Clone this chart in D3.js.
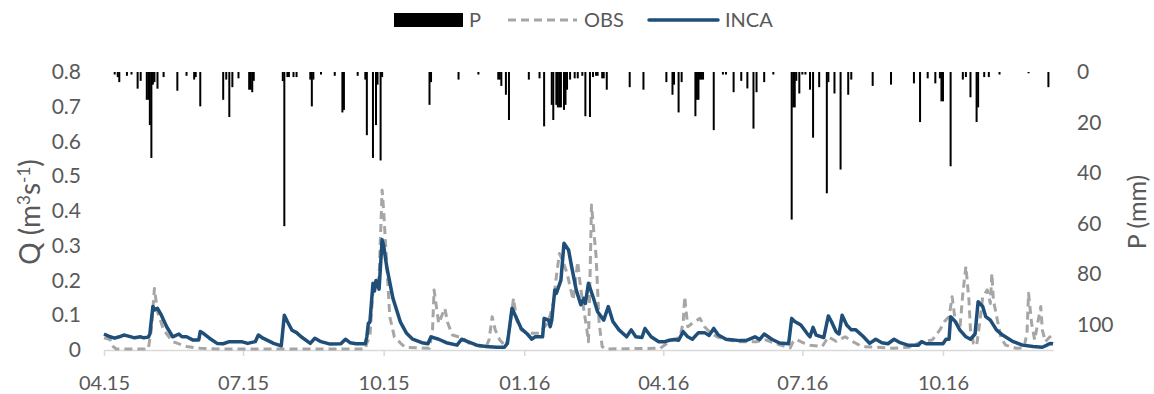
<!DOCTYPE html>
<head>
<meta charset="utf-8">
<script src="https://d3js.org/d3.v7.min.js"></script>
<title>Q and P</title>
<style>
  body { margin: 0; background: #fff; }
  text { font-family: Lato, "Open Sans", sans-serif; fill: #595959; }
</style>
</head>
<body>
<svg id="chart" width="1154" height="394"></svg>
<script>
// day offsets counted from 2015-04-01
const startDate = [2015, 3, 1];
const endDay = 621;
const tickDays = [0, 91, 183, 275, 366, 457, 549];

// precipitation (mm), [day, mm]
const precip = [
  [7,1],[9,2],[10,4],[15,1.5],[18,1],[22,6.6],[24,3.5],[28,11],[29,11],[30,21],[31,34],[32,5],[33,4],[35,6.6],
  [39,2],[48,7.4],[54,1.5],[59,3],[60,2],[63,13.6],[78,11],[80,3],[82,17.8],[84,6],[88,2.5],[95,7],[96,7],[97,8],[98,3.5],
  [117,3.6],[118,61],[120,2],[121,2],[124,2],[126,2],[135,3],[136,13.6],[137,3],[142,1],[151,1.5],[156,16],[157,15],
  [166,1.5],[171,3],[172,25],[176,34],[178,21],[179,5],[181,35],[182,2],
  [213,13],[214,4],[232,3],[245,1],[258,3],[259,3],[260,5.5],[263,9],[265,19],[278,3],[285,2.5],[288,21.5],
  [293,13],[294,19],[296,13],[297,14],[298,14],[299,14],[301,15],[302,13],[303,7],[305,3],[308,2.5],[310,2.5],
  [313,1.5],[315,17.5],[318,17.8],[320,2],[322,1.5],[323,1.5],[326,2.5],[327,2.5],[329,7],[344,6],[353,7],
  [368,4],[372,9],[373,5],[376,16],[378,4],[387,17.5],[388,11],[389,11],[390,3],[391,3],[392,3],[399,23],
  [405,1],[407,1],[412,8],[417,3.5],[421,6.5],[425,22.4],[427,8],[432,4],[438,1],
  [450,58.4],[451,14],[452,14],[453,3.5],[455,8.5],[457,1],[459,1],[462,7],[464,26],[468,6],[473,48],[474,4],
  [478,8.5],[482,38.6],[487,9],[489,3],[503,5.5],[515,5],
  [530,4.5],[534,19.8],[539,2.5],[544,4.5],[547,2.5],[548,11.6],[549,11.6],[554,37.3],[562,3],[564,2],[567,10],
  [571,19.8],[572,14],[576,2],[579,2],[586,1],[605,0.5],[618,6]
];

// observed discharge (m3/s), [day, Q]
const obs = [
  [0,0.035],[4,0.03],[6,0.01],[8,0.003],[29,0.003],[31,0.06],[33,0.177],[35,0.11],[39,0.058],[45,0.024],[54,0.01],
  [63,0.005],[76,0.003],[171,0.003],[172,0.02],[174,0.038],[176,0.17],[179,0.2],[180,0.21],[182,0.46],[183,0.4],
  [185,0.25],[187,0.096],[190,0.038],[194,0.02],[197,0.008],[213,0.005],[215,0.06],[216,0.173],[219,0.077],
  [223,0.12],[225,0.077],[228,0.043],[235,0.034],[239,0.019],[246,0.01],[250,0.008],[252,0.03],[254,0.096],
  [256,0.058],[259,0.029],[263,0.01],[265,0.05],[268,0.149],[270,0.086],[273,0.058],[277,0.048],[285,0.048],
  [290,0.077],[292,0.1],[294,0.134],[296,0.211],[298,0.278],[300,0.259],[303,0.221],[305,0.182],[307,0.144],
  [310,0.254],[311,0.211],[313,0.144],[316,0.058],[317,0.024],[318,0.2],[319,0.417],[322,0.27],[324,0.077],
  [326,0.01],[328,0.003],[364,0.005],[370,0.024],[377,0.038],[379,0.08],[380,0.153],[382,0.067],[385,0.077],
  [390,0.091],[393,0.067],[396,0.053],[401,0.038],[407,0.03],[414,0.024],[427,0.024],[433,0.029],[438,0.021],
  [442,0.015],[449,0.006],[451,0.024],[453,0.03],[458,0.02],[462,0.014],[470,0.01],[474,0.038],[479,0.025],
  [485,0.038],[490,0.024],[496,0.01],[505,0.008],[516,0.005],[527,0.008],[535,0.024],[542,0.029],[547,0.058],
  [550,0.082],[553,0.096],[555,0.153],[557,0.086],[560,0.058],[562,0.163],[564,0.24],[566,0.144],[567,0.058],
  [569,0.019],[571,0.012],[573,0.077],[575,0.153],[578,0.173],[580,0.134],[581,0.22],[582,0.144],[585,0.077],
  [587,0.034],[590,0.014],[597,0.005],[602,0.006],[604,0.05],[605,0.163],[607,0.077],[609,0.029],[611,0.077],
  [613,0.125],[614,0.058],[616,0.024],[619,0.038],[621,0.019]
];

// simulated discharge INCA (m3/s), [day, Q]
const inca = [
  [0,0.046],[4,0.038],[7,0.034],[10,0.038],[13,0.043],[16,0.04],[20,0.035],[24,0.038],[26,0.035],[29,0.037],
  [30,0.046],[32,0.125],[33,0.115],[35,0.12],[37,0.105],[41,0.067],[45,0.038],[49,0.046],[51,0.038],[54,0.038],
  [58,0.029],[62,0.029],[63,0.053],[65,0.048],[69,0.034],[74,0.019],[78,0.018],[82,0.024],[87,0.024],[90,0.024],
  [94,0.019],[99,0.024],[101,0.043],[104,0.034],[111,0.019],[116,0.012],[118,0.1],[120,0.082],[123,0.057],
  [126,0.05],[129,0.038],[135,0.019],[138,0.034],[142,0.024],[148,0.017],[155,0.018],[158,0.031],[161,0.021],
  [165,0.018],[171,0.018],[172,0.038],[173,0.077],[174,0.08],[176,0.192],[177,0.17],[178,0.2],[180,0.175],
  [182,0.317],[183,0.3],[185,0.24],[189,0.15],[194,0.08],[198,0.048],[202,0.031],[208,0.021],[212,0.018],
  [214,0.038],[219,0.031],[224,0.021],[231,0.014],[234,0.031],[238,0.024],[244,0.014],[250,0.01],[257,0.008],
  [262,0.008],[264,0.019],[267,0.12],[270,0.091],[273,0.062],[277,0.046],[280,0.031],[282,0.038],[287,0.038],
  [288,0.091],[291,0.085],[292,0.067],[293,0.086],[295,0.173],[296,0.163],[299,0.201],[301,0.307],[304,0.288],
  [306,0.24],[309,0.173],[312,0.13],[314,0.149],[315,0.134],[317,0.192],[320,0.153],[323,0.11],[327,0.086],
  [330,0.125],[333,0.082],[337,0.058],[342,0.038],[345,0.058],[348,0.038],[352,0.036],[354,0.062],[358,0.038],
  [363,0.024],[367,0.024],[370,0.028],[373,0.03],[376,0.028],[379,0.053],[382,0.038],[385,0.031],[389,0.05],
  [393,0.05],[396,0.042],[399,0.062],[402,0.043],[407,0.031],[412,0.029],[416,0.027],[420,0.027],[426,0.038],
  [429,0.03],[432,0.046],[437,0.031],[442,0.02],[448,0.018],[450,0.091],[452,0.082],[456,0.072],[460,0.048],
  [462,0.038],[464,0.065],[466,0.043],[471,0.036],[474,0.098],[476,0.082],[479,0.053],[481,0.046],[483,0.1],
  [486,0.072],[489,0.058],[492,0.058],[497,0.038],[501,0.019],[505,0.031],[509,0.021],[513,0.018],[517,0.031],
  [521,0.021],[526,0.014],[533,0.014],[535,0.024],[538,0.018],[545,0.018],[549,0.018],[551,0.031],[553,0.031],
  [554,0.096],[557,0.082],[560,0.058],[564,0.038],[567,0.031],[570,0.046],[572,0.139],[575,0.125],[577,0.096],
  [580,0.086],[584,0.058],[588,0.043],[595,0.024],[601,0.014],[608,0.01],[614,0.008],[617,0.014],[619,0.019],
  [621,0.018]
];

const qTicks = [0, 0.1, 0.2, 0.3, 0.4, 0.5, 0.6, 0.7, 0.8];
const pTicks = [0, 20, 40, 60, 80, 100];

function toDate(day) {
  return new Date(Date.UTC(startDate[0], startDate[1], startDate[2] + day));
}

const svg = d3.select('#chart');

const x = d3.scaleUtc().domain([toDate(0), toDate(endDay)]).range([104, 1053]);
const yQ = d3.scaleLinear().domain([0, 0.8]).range([350, 72]);
const yP = d3.scaleLinear().domain([0, 110]).range([72, 350]);

// x axis
const xAxis = svg.append('g')
  .attr('transform', 'translate(0,350)')
  .call(d3.axisBottom(x)
    .tickValues(tickDays.map(toDate))
    .tickFormat(d3.utcFormat('%m.%y'))
    .tickSizeInner(6).tickSizeOuter(0));
xAxis.select('.domain').attr('stroke', '#d9d9d9').attr('stroke-width', 1.5);
xAxis.selectAll('.tick line').attr('stroke', '#d9d9d9').attr('stroke-width', 1.5);
xAxis.selectAll('.tick text').attr('dy', 0).attr('y', 40).style('font-size', '20px').attr('fill', '#595959');

// left axis
const yAxis = svg.append('g')
  .attr('transform', 'translate(91,0)')
  .call(d3.axisLeft(yQ).tickValues(qTicks).tickFormat(d => d === 0 ? '0' : d3.format('.1f')(d)).tickSize(0));
yAxis.select('.domain').remove();
yAxis.selectAll('.tick text').attr('x', -10).style('font-size', '21px').attr('fill', '#595959');

// right axis
const pAxis = svg.append('g')
  .attr('transform', 'translate(1067,0)')
  .call(d3.axisRight(yP).tickValues(pTicks).tickSize(0));
pAxis.select('.domain').remove();
pAxis.selectAll('.tick text').attr('x', 10).style('font-size', '21px').attr('fill', '#595959');

// axis titles
const qTitle = svg.append('text')
  .attr('transform', 'translate(40,212) rotate(-90)')
  .attr('text-anchor', 'middle')
  .style('font-size', '28px');
qTitle.append('tspan').text('Q (m');
qTitle.append('tspan').attr('baseline-shift', 'super').style('font-size', '17px').text('3');
qTitle.append('tspan').text('s');
qTitle.append('tspan').attr('baseline-shift', 'super').style('font-size', '17px').text('-1');
qTitle.append('tspan').text(')');

svg.append('text')
  .attr('transform', 'translate(1146,212) rotate(-90)')
  .attr('text-anchor', 'middle')
  .style('font-size', '25px')
  .text('P (mm)');

// precipitation bars hanging from the top
svg.append('g').selectAll('rect')
  .data(precip)
  .enter()
  .append('rect')
    .attr('x', d => x(toDate(d[0])) - 1)
    .attr('y', yP(0))
    .attr('width', 2)
    .attr('height', d => yP(d[1]) - yP(0))
    .attr('fill', '#000');

const line = d3.line()
  .x(d => x(toDate(d[0])))
  .y(d => yQ(d[1]));

svg.append('path')
  .datum(obs)
  .attr('d', line)
  .attr('fill', 'none')
  .attr('stroke', '#a6a6a6')
  .attr('stroke-width', 3)
  .attr('stroke-dasharray', '8,5')
  .attr('stroke-linejoin', 'round');

svg.append('path')
  .datum(inca)
  .attr('d', line)
  .attr('fill', 'none')
  .attr('stroke', '#1f4e79')
  .attr('stroke-width', 3.5)
  .attr('stroke-linejoin', 'round');

// legend
const legend = svg.append('g');
legend.append('rect').attr('x', 394).attr('y', 13).attr('width', 69).attr('height', 14).attr('fill', '#000');
legend.append('text').attr('x', 469).attr('y', 27).style('font-size', '20px').text('P');
legend.append('line').attr('x1', 508).attr('x2', 577).attr('y1', 20).attr('y2', 20)
  .attr('stroke', '#a6a6a6').attr('stroke-width', 3).attr('stroke-dasharray', '8,5');
legend.append('text').attr('x', 584).attr('y', 27).style('font-size', '20px').text('OBS');
legend.append('line').attr('x1', 649).attr('x2', 718).attr('y1', 20).attr('y2', 20)
  .attr('stroke', '#1f4e79').attr('stroke-width', 3.5).attr('stroke-linecap', 'round');
legend.append('text').attr('x', 725).attr('y', 27).style('font-size', '20px').text('INCA');
</script>
</body>
